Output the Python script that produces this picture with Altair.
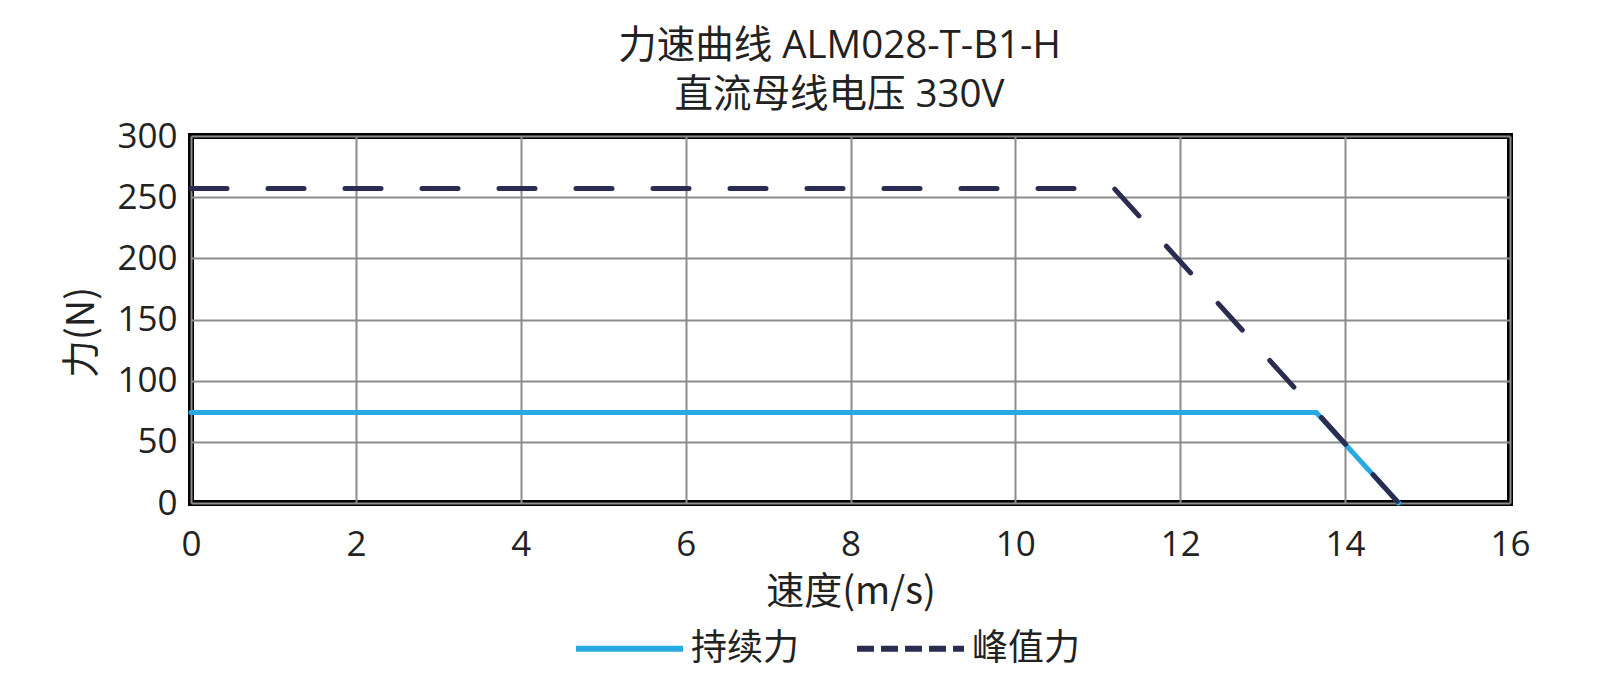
import altair as alt
import pandas as pd

series = ["持续力", "峰值力"]
colors = ["#29a9e1", "#2a2c52"]
legend_dashes = [[1, 0], [17, 7]]

cont_x = [0, 13.65, 14.65]
cont_y = [74, 74, 0]
peak_x = [0, 11.2, 14.65]
peak_y = [257, 257, 0]

x_ticks = [0, 2, 4, 6, 8, 10, 12, 14, 16]
y_ticks = [0, 50, 100, 150, 200, 250, 300]

title_lines = ["力速曲线 ALM028-T-B1-H", "直流母线电压 330V"]
x_title = "速度(m/s)"
y_title = "力(N)"

FONT = "Noto Sans CJK SC"
MIXED = "Open Sans, Noto Sans CJK SC"

df_c = pd.DataFrame({"v": cont_x, "f": cont_y, "s": series[0]})
df_p = pd.DataFrame({"v": peak_x, "f": peak_y, "s": series[1]})

xenc = alt.X("v:Q", scale=alt.Scale(domain=[0, 16], nice=False),
             axis=alt.Axis(values=x_ticks, title=x_title, format="d",
                           labelFlush=False))
yenc = alt.Y("f:Q", scale=alt.Scale(domain=[0, 300], nice=False),
             axis=alt.Axis(values=y_ticks, title=y_title, format="d",
                           titleY=196))
leg = alt.Legend(
    title=None, orient="none", direction="horizontal",
    legendX=382, legendY=456,
    symbolType="stroke", symbolSize=11449, symbolStrokeWidth=6,
    labelFont=FONT, labelFontSize=36, labelColor="#222222",
    labelOffset=5, columnPadding=45,
)
color = alt.Color("s:N", scale=alt.Scale(domain=series, range=colors), legend=leg)
dash = alt.StrokeDash("s:N", scale=alt.Scale(domain=series, range=legend_dashes),
                      legend=leg)

solid = alt.Chart(df_c).mark_line(strokeWidth=5, strokeCap="round").encode(
    x=xenc, y=yenc, color=color, strokeDash=dash)
dashed = alt.Chart(df_p).mark_line(strokeWidth=5, strokeCap="round",
                                   strokeDash=[36, 41]).encode(
    x=xenc, y=yenc, color=color)

chart = alt.layer(solid, dashed).properties(
    width=1319, height=367,
    title=alt.TitleParams(text=title_lines, font=MIXED, fontSize=38.5,
                          fontWeight="normal", color="#222222",
                          lineHeight=49, anchor="middle", dx=-11, offset=4),
    autosize=alt.AutoSizeParams(type="none"),
    padding={"left": 183, "top": 128, "right": 100, "bottom": 185},
).configure_view(stroke="black", strokeWidth=6).configure_axis(
    labelFont=MIXED, labelFontSize=35, labelColor="#222222",
    titleFont=FONT, titleFontSize=38, titleColor="#222222",
    titleFontWeight="normal",
    gridColor="#8c8c8c", gridWidth=2, domain=False, ticks=False,
).configure_axisY(labelPadding=14, titlePadding=15).configure_axisX(
    labelPadding=24, titlePadding=11)

chart.save("out.html", embed_options={"renderer": "svg", "actions": False})
